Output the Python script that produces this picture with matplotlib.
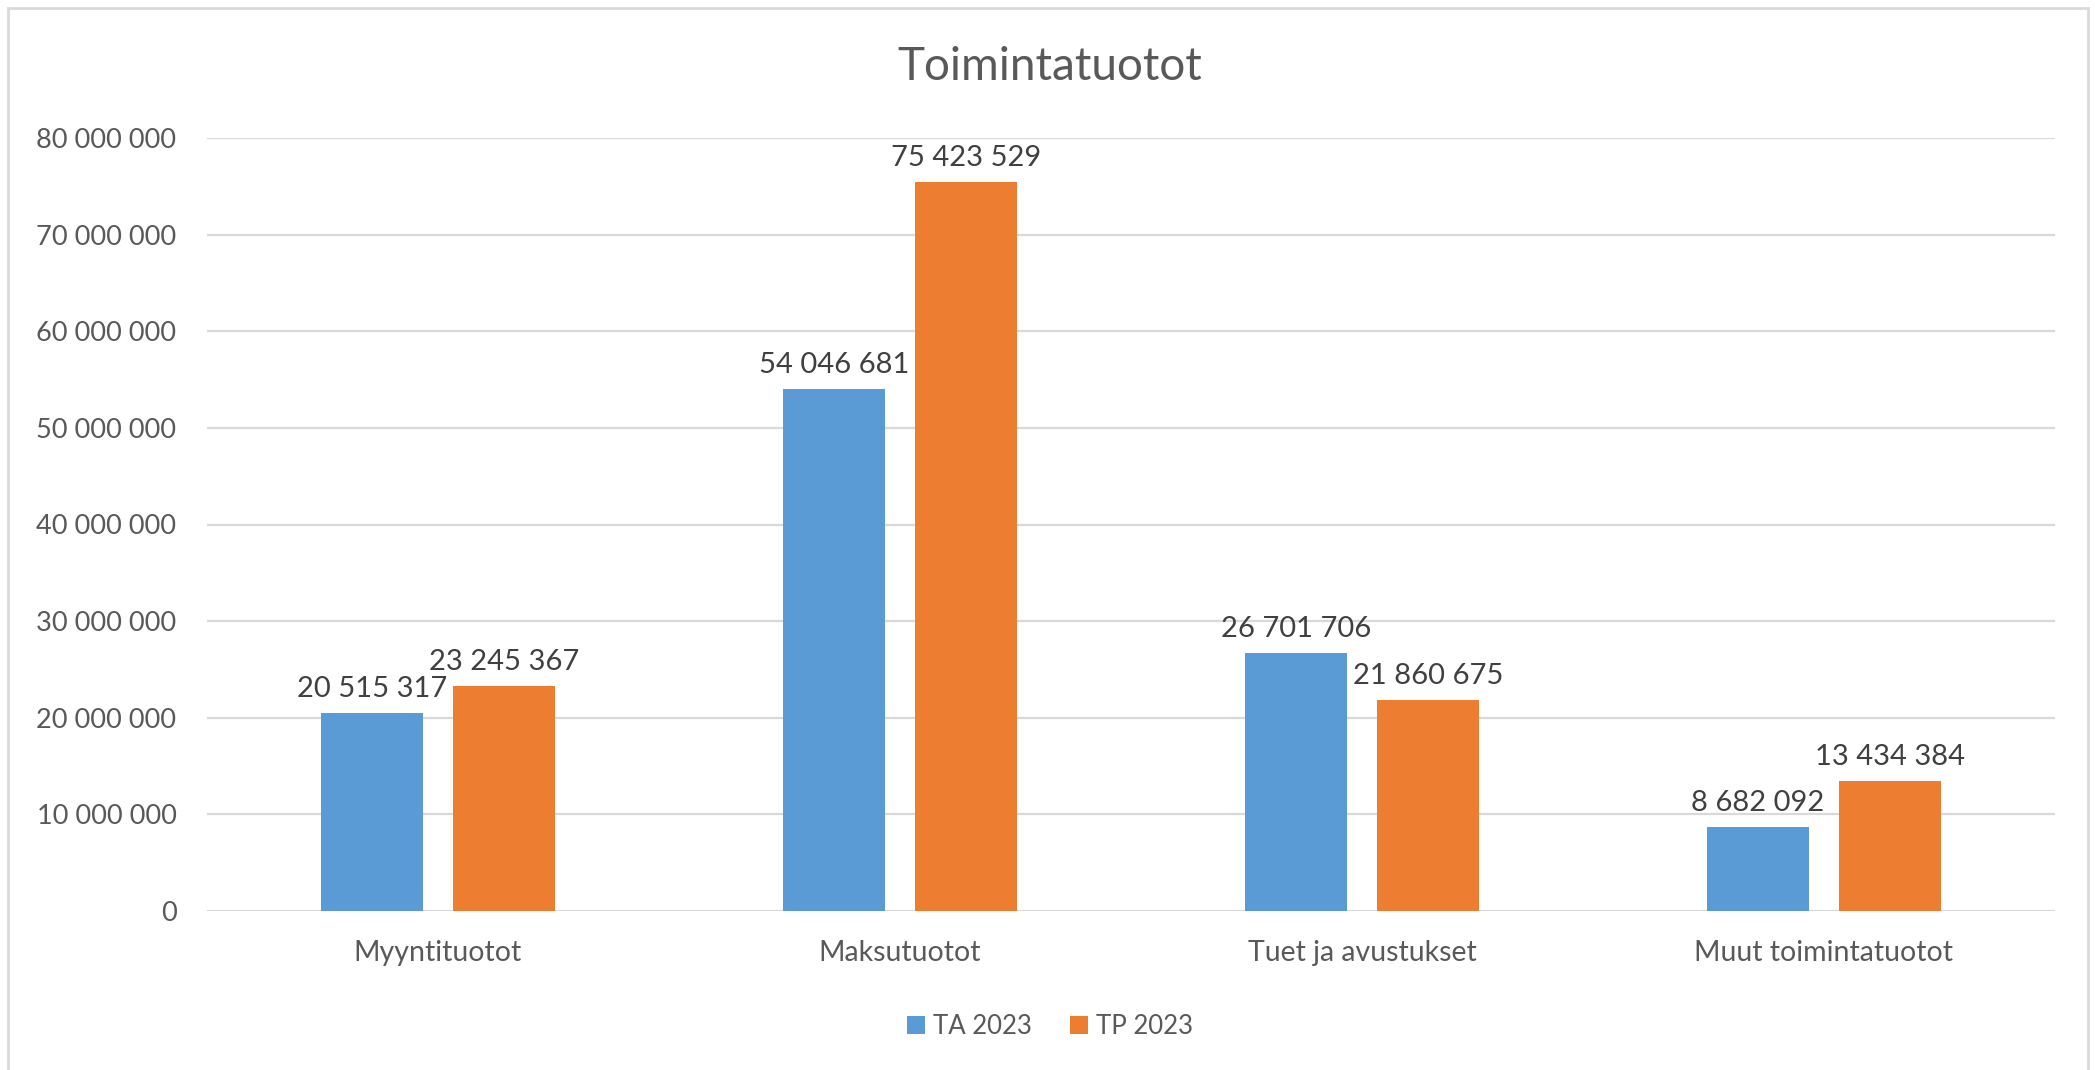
import matplotlib
matplotlib.use("Agg")
import numpy as np
import matplotlib.pyplot as plt
from matplotlib.ticker import FuncFormatter, MultipleLocator
from matplotlib.patches import Rectangle

# data
categories = ["Myyntituotot", "Maksutuotot", "Tuet ja avustukset", "Muut toimintatuotot"]
ta_2023 = [20515317, 54046681, 26701706, 8682092]
tp_2023 = [23245367, 75423529, 21860675, 13434384]
series_names = ["TA 2023", "TP 2023"]

BLUE = "#5B9BD5"
ORANGE = "#ED7D31"
TEXT = "#595959"
GRID = "#D9D9D9"

plt.rcParams["font.family"] = ["Lato", "DejaVu Sans"]


def fmt(v, pos=None):
    return f"{v:,.0f}".replace(",", " ")


def main():
    fig = plt.figure(figsize=(20.95, 10.70), dpi=100)
    ax = fig.add_axes([207 / 2095, 1 - 911 / 1070, (2055 - 207) / 2095, (911 - 138) / 1070])

    # chart border like excel (bottom edge runs off the canvas)
    fig.patches.append(Rectangle((8 / 2095, -20 / 1070), 2080 / 2095, 1082 / 1070,
                                 transform=fig.transFigure, fill=False,
                                 edgecolor=GRID, linewidth=2))

    x = np.arange(len(categories))
    w = 0.22
    off = 0.143
    b1 = ax.bar(x - off, ta_2023, w, color=BLUE, label=series_names[0], zorder=3)
    b2 = ax.bar(x + off, tp_2023, w, color=ORANGE, label=series_names[1], zorder=3)

    for bars, vals in ((b1, ta_2023), (b2, tp_2023)):
        ax.bar_label(bars, labels=[fmt(v) for v in vals], padding=8,
                     fontsize=21, color="#404040")

    ax.set_xlim(-0.5, len(categories) - 0.5)
    ax.set_ylim(0, 80000000)
    ax.yaxis.set_major_locator(MultipleLocator(10000000))
    ax.yaxis.set_major_formatter(FuncFormatter(fmt))
    ax.grid(axis="y", color=GRID, linewidth=1.6, zorder=0)
    ax.set_axisbelow(True)
    for s in ax.spines.values():
        s.set_visible(False)

    ax.set_xticks(x)
    ax.set_xticklabels(categories)
    ax.tick_params(axis="x", length=0, pad=21, labelsize=20.5, labelcolor=TEXT)
    ax.tick_params(axis="y", length=0, pad=22, labelsize=19.5, labelcolor=TEXT)

    fig.text(1050 / 2095, 1 - 67 / 1070, "Toimintatuotot", ha="center", va="center",
             fontsize=33, color=TEXT)

    fig.legend(handles=[b1, b2], labels=series_names, loc="center",
               bbox_to_anchor=(1050 / 2095, 1 - 1026 / 1070), ncol=2, frameon=False,
               fontsize=18.5, labelcolor=TEXT, handlelength=0.7, handleheight=0.7,
               handletextpad=0.3, columnspacing=1.5)

    fig.savefig("out.png", dpi=100, facecolor="white")


if __name__ == "__main__":
    main()
